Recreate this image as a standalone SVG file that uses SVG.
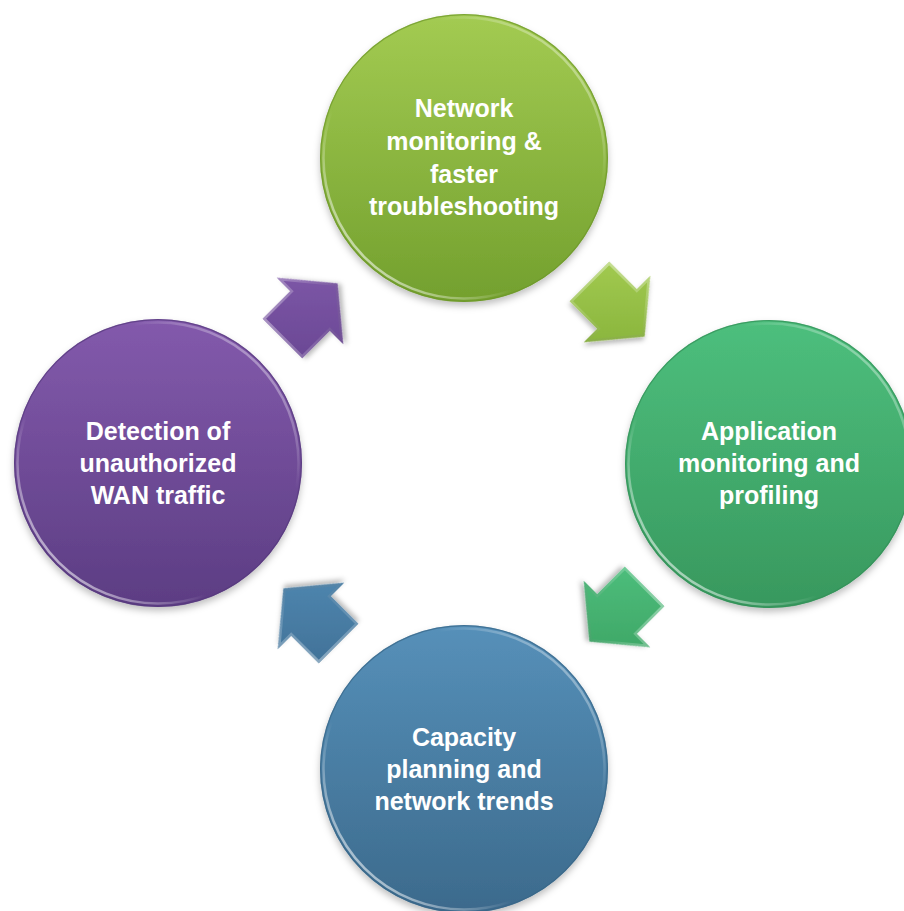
<svg xmlns="http://www.w3.org/2000/svg" width="904" height="911" viewBox="0 0 904 911">
  <defs>
    <style>
      .lbl { font-family: "Liberation Sans", Arial, sans-serif; font-weight: bold; font-size: 25px; fill: #ffffff; text-anchor: middle; }
      .rim { fill: none; stroke-width: 1.2; stroke-opacity: 0.7; }
      .hl { fill: none; stroke: url(#hlGrad); stroke-width: 2.5; }
      .bevel { fill: none; stroke: url(#bevelGrad); stroke-width: 5; }
    </style>
    <filter id="shadow" x="-20%" y="-20%" width="140%" height="140%">
      <feDropShadow dx="0" dy="4" stdDeviation="3.5" flood-color="#000000" flood-opacity="0.25"/>
    </filter>
    <filter id="ashadow" x="-30%" y="-30%" width="160%" height="160%">
      <feDropShadow dx="2" dy="3" stdDeviation="2.5" flood-color="#000000" flood-opacity="0.28"/>
    </filter>
    <linearGradient id="gTop" x1="0" y1="0" x2="0" y2="1">
      <stop offset="0" stop-color="#a3cb52"/>
      <stop offset="1" stop-color="#73a02e"/>
    </linearGradient>
    <linearGradient id="gRight" x1="0" y1="0" x2="0" y2="1">
      <stop offset="0" stop-color="#4dbf7d"/>
      <stop offset="1" stop-color="#38985e"/>
    </linearGradient>
    <linearGradient id="gBottom" x1="0" y1="0" x2="0" y2="1">
      <stop offset="0" stop-color="#5690b9"/>
      <stop offset="1" stop-color="#3c6a8c"/>
    </linearGradient>
    <linearGradient id="gLeft" x1="0" y1="0" x2="0" y2="1">
      <stop offset="0" stop-color="#835aac"/>
      <stop offset="1" stop-color="#5c3d83"/>
    </linearGradient>
    <linearGradient id="hlGrad" x1="0" y1="1" x2="1" y2="0">
      <stop offset="0" stop-color="#ffffff" stop-opacity="0.95"/>
      <stop offset="0.35" stop-color="#ffffff" stop-opacity="0"/>
      <stop offset="0.7" stop-color="#ffffff" stop-opacity="0"/>
      <stop offset="1" stop-color="#ffffff" stop-opacity="0.7"/>
    </linearGradient>
    <linearGradient id="bevelGrad" x1="0" y1="0" x2="1" y2="1">
      <stop offset="0" stop-color="#ffffff" stop-opacity="0.45"/>
      <stop offset="0.5" stop-color="#ffffff" stop-opacity="0.15"/>
      <stop offset="1" stop-color="#000000" stop-opacity="0.1"/>
    </linearGradient>
    <path id="arrowShape" d="M -39,-28 H 0 V -47 L 39,0 L 0,47 V 28 H -39 Z"/>
    <clipPath id="arrowClip">
      <use href="#arrowShape"/>
    </clipPath>
    <linearGradient id="aG1" gradientUnits="userSpaceOnUse" x1="-35" y1="-35" x2="35" y2="35">
      <stop offset="0" stop-color="#a2ca50"/>
      <stop offset="1" stop-color="#86b23a"/>
    </linearGradient>
    <linearGradient id="aG2" gradientUnits="userSpaceOnUse" x1="-35" y1="35" x2="35" y2="-35">
      <stop offset="0" stop-color="#4dbe7c"/>
      <stop offset="1" stop-color="#3da464"/>
    </linearGradient>
    <linearGradient id="aB" gradientUnits="userSpaceOnUse" x1="35" y1="35" x2="-35" y2="-35">
      <stop offset="0" stop-color="#5088b1"/>
      <stop offset="1" stop-color="#417298"/>
    </linearGradient>
    <linearGradient id="aP" gradientUnits="userSpaceOnUse" x1="35" y1="-35" x2="-35" y2="35">
      <stop offset="0" stop-color="#7f58a9"/>
      <stop offset="1" stop-color="#6a4894"/>
    </linearGradient>
  </defs>

  <rect width="904" height="911" fill="#ffffff"/>

  <g id="connectors">
    <g id="arrow-top-right" transform="translate(617 309) rotate(45)">
      <use href="#arrowShape" fill="url(#aG1)" filter="url(#ashadow)"/>
      <use href="#arrowShape" class="bevel" clip-path="url(#arrowClip)"/>
    </g>
    <g id="arrow-bottom-right" transform="translate(617 614) rotate(135)">
      <use href="#arrowShape" fill="url(#aG2)" filter="url(#ashadow)"/>
      <use href="#arrowShape" class="bevel" clip-path="url(#arrowClip)"/>
    </g>
    <g id="arrow-bottom-left" transform="translate(311 616) rotate(225)">
      <use href="#arrowShape" fill="url(#aB)" filter="url(#ashadow)"/>
      <use href="#arrowShape" class="bevel" clip-path="url(#arrowClip)"/>
    </g>
    <g id="arrow-top-left" transform="translate(310 311) rotate(-45)">
      <use href="#arrowShape" fill="url(#aP)" filter="url(#ashadow)"/>
      <use href="#arrowShape" class="bevel" clip-path="url(#arrowClip)"/>
    </g>
  </g>

  <g id="node-network">
    <circle cx="464" cy="158" r="144" fill="url(#gTop)" filter="url(#shadow)"/>
    <circle cx="464" cy="158" r="143.4" class="rim" stroke="#6c962a"/>
    <circle cx="464" cy="158" r="140.5" class="hl"/>
    <text class="lbl" x="464" y="117">Network</text>
    <text class="lbl" x="464" y="150">monitoring &amp;</text>
    <text class="lbl" x="464" y="183">faster</text>
    <text class="lbl" x="464" y="215">troubleshooting</text>
  </g>

  <g id="node-application">
    <circle cx="769" cy="464" r="144" fill="url(#gRight)" filter="url(#shadow)"/>
    <circle cx="769" cy="464" r="143.4" class="rim" stroke="#338f57"/>
    <circle cx="769" cy="464" r="140.5" class="hl"/>
    <text class="lbl" x="769" y="440">Application</text>
    <text class="lbl" x="769" y="472">monitoring and</text>
    <text class="lbl" x="769" y="504">profiling</text>
  </g>

  <g id="node-capacity">
    <circle cx="464" cy="769" r="144" fill="url(#gBottom)" filter="url(#shadow)"/>
    <circle cx="464" cy="769" r="143.4" class="rim" stroke="#386586"/>
    <circle cx="464" cy="769" r="140.5" class="hl"/>
    <text class="lbl" x="464" y="746">Capacity</text>
    <text class="lbl" x="464" y="778">planning and</text>
    <text class="lbl" x="464" y="810">network trends</text>
  </g>

  <g id="node-detection">
    <circle cx="158" cy="463" r="144" fill="url(#gLeft)" filter="url(#shadow)"/>
    <circle cx="158" cy="463" r="143.4" class="rim" stroke="#56397c"/>
    <circle cx="158" cy="463" r="140.5" class="hl"/>
    <text class="lbl" x="158" y="440">Detection of</text>
    <text class="lbl" x="158" y="472">unauthorized</text>
    <text class="lbl" x="158" y="504">WAN traffic</text>
  </g>
</svg>
